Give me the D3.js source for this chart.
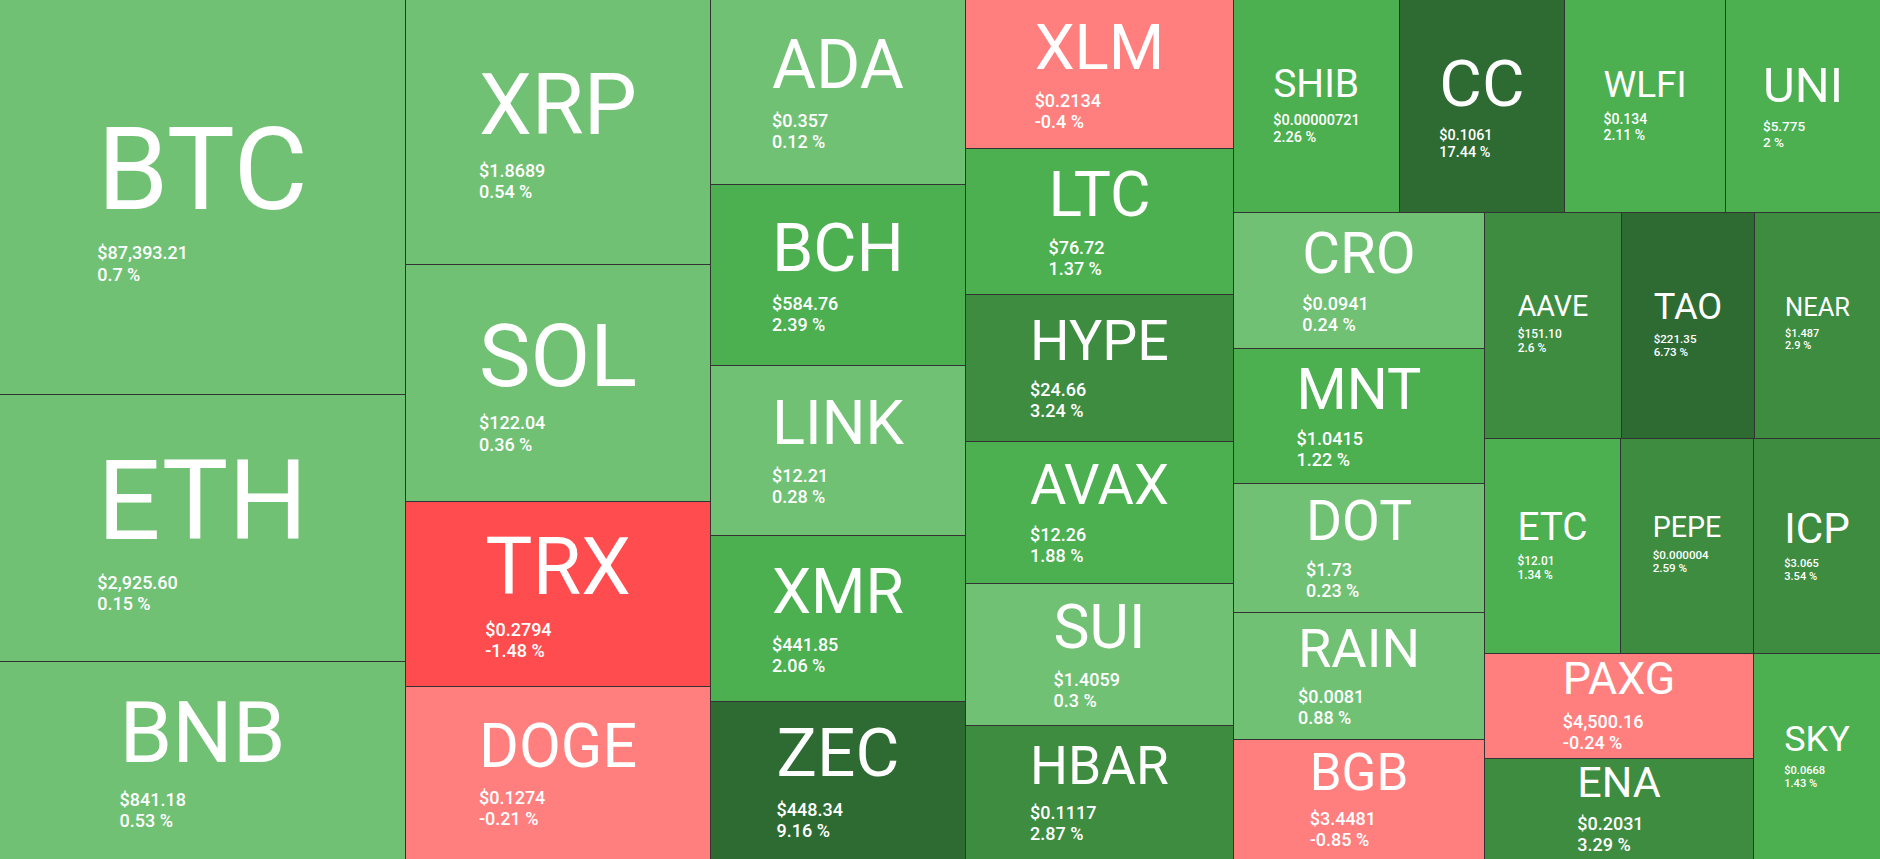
<!DOCTYPE html>
<html><head><meta charset="utf-8">
<script src="https://cdn.jsdelivr.net/npm/d3@7"></script>
<style>html,body{margin:0;padding:0;background:#333;overflow:hidden}</style>
</head><body><svg id="chart"></svg>
<script>
// ---- data ----
const symbols = ["BTC","ETH","BNB","XRP","SOL","TRX","DOGE","ADA","BCH","LINK","XMR","ZEC","XLM","LTC","HYPE","AVAX","SUI","HBAR","SHIB","CC","WLFI","UNI","CRO","MNT","DOT","RAIN","BGB","AAVE","TAO","NEAR","ETC","PEPE","ICP","PAXG","ENA","SKY"];
const priceLabels = ["$87,393.21","$2,925.60","$841.18","$1.8689","$122.04","$0.2794","$0.1274","$0.357","$584.76","$12.21","$441.85","$448.34","$0.2134","$76.72","$24.66","$12.26","$1.4059","$0.1117","$0.00000721","$0.1061","$0.134","$5.775","$0.0941","$1.0415","$1.73","$0.0081","$3.4481","$151.10","$221.35","$1.487","$12.01","$0.000004","$3.065","$4,500.16","$0.2031","$0.0668"];
const changes = [0.7,0.15,0.53,0.54,0.36,-1.48,-0.21,0.12,2.39,0.28,2.06,9.16,-0.4,1.37,3.24,1.88,0.3,2.87,2.26,17.44,2.11,2,0.24,1.22,0.23,0.88,-0.85,2.6,6.73,2.9,1.34,2.59,3.54,-0.24,3.29,1.43];
const sizes = [160172,108147,80005,80878,72027,56676,52586,46867,46206,42977,42214,40179,40012,39048,39316,38002,37922,35912,35308,35096,34245,32969,34279,33902,32242,32066,30054,30727,30140,28358,29133,28531,27370,28161,27008,26186];
// number of tiles in each successive strip of the squarified layout
const rowLengths = [3,4,5,6,4,5,3,3,2,1];

const W = 1880, H = 859;
const svg = d3.select("#chart").attr("width", W).attr("height", H).style("display","block");
svg.append("rect").attr("width", W).attr("height", H).attr("fill", "#333");

const data = symbols.map((s, i) => ({symbol: s, price: priceLabels[i], change: changes[i], size: sizes[i]}));
const root = d3.hierarchy({children: data}).sum(d => d.size || 0);

function stripTile(parent, x0, y0, x1, y1) {
  let value = parent.value, i = 0;
  for (const len of rowLengths) {
    const kids = parent.children.slice(i, i + len); i += len;
    const row = {children: kids, value: d3.sum(kids, k => k.value)};
    const dx = x1 - x0, dy = y1 - y0;
    if (dx < dy) d3.treemapDice(row, x0, y0, x1, y0 += dy * row.value / value);
    else d3.treemapSlice(row, x0, y0, x0 += dx * row.value / value, y1);
    value -= row.value;
  }
}

d3.treemap().size([W, H]).tile(stripTile).paddingInner(1).round(true)(root);

const color = d3.scaleThreshold()
  .domain([-2.5, -1, 0, 1, 2.5, 5])
  .range(["#d32f2f", "#ff4d4f", "#ff7f7f", "#71c175", "#4caf50", "#3d8c40", "#2e6b32"]);

const FONT = "Roboto, 'Noto Sans', sans-serif";
const measure = svg.append("text").style("font-family", FONT).attr("font-size", 100).attr("visibility", "hidden");
function emWidth(str, weight) {
  measure.attr("font-weight", weight).text(str);
  return measure.node().getComputedTextLength() / 100;
}

const leaves = root.leaves();
const tiles = svg.selectAll("g.tile").data(leaves).join("g").attr("class", "tile");

tiles.append("rect")
  .attr("x", d => d.x0).attr("y", d => d.y0)
  .attr("width", d => d.x1 - d.x0).attr("height", d => d.y1 - d.y0)
  .attr("fill", d => color(d.data.change));

tiles.each(function(d) {
  const g = d3.select(this);
  const w = d.x1 - d.x0, h = d.y1 - d.y0;
  const pct = d.data.change + " %";
  const fs = Math.min(115, 0.43 * h, 0.52 * w / emWidth(d.data.symbol, 400));
  const pf = Math.min(18, 0.088 * w);
  const blockW = Math.max(fs * emWidth(d.data.symbol, 400), pf * emWidth(d.data.price, 500), pf * emWidth(pct, 500));
  const bx = d.x0 + (w - blockW) / 2;
  const bh = 1.171 * fs + 0.927 * pf + pf / 3 + 1.17 * pf + 0.244 * pf;
  const top = d.y0 + (h - bh) / 2 - 3;
  const ys = top + 0.927 * fs;
  const yp = ys + 0.244 * fs + 0.927 * pf + pf / 3;
  const yq = yp + 1.17 * pf;
  g.append("text").attr("x", bx).attr("y", ys).attr("fill", "#fff")
    .style("font-family", FONT).attr("font-size", fs).text(d.data.symbol);
  g.append("text").attr("x", bx).attr("y", yp).attr("fill", "#fff").attr("font-weight", 500)
    .style("font-family", FONT).attr("font-size", pf).text(d.data.price);
  g.append("text").attr("x", bx).attr("y", yq).attr("fill", "#fff").attr("font-weight", 500)
    .style("font-family", FONT).attr("font-size", pf).text(pct);
});
measure.remove();
</script>
</body></html>
